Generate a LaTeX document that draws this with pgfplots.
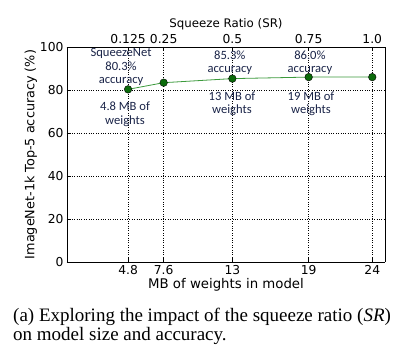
\documentclass[border=0pt]{standalone}
\usepackage{pgfplots}
\pgfplotsset{compat=1.18}
\usepackage{fontspec}
\setmainfont{DejaVu Sans}
\newfontfamily\annfont{Carlito}
\newfontfamily\capfont{Liberation Serif}
\definecolor{anncol}{HTML}{1A2448}
\definecolor{linegreen}{HTML}{3C9A3C}
\definecolor{markgreen}{HTML}{0A6A0A}
\begin{document}
\begin{tikzpicture}[x=1pt,y=1pt]
\useasboundingbox (-67,-91) rectangle (340,262);
\pgfplotsset{every axis/.append style={
  scale only axis, width=318pt, height=215pt,
  xmin=0, xmax=25, ymin=0, ymax=100,
  tick label style={font=\fontsize{12.3}{14}\selectfont},
  /pgf/number format/assume math mode=true,
  tick align=inside, tick style={black, thin},
}}
\begin{axis}[at={(0,0)}, anchor=south west,
  xtick={4.8,7.6,13,19,24},
  xticklabels={4.8,7.6,13,19,24},
  ytick={0,20,40,60,80,100},
  grid=major, grid style={black, dotted, thin},
  axis x line*=bottom, axis y line*=left,
  xlabel={MB of weights in model},
  ylabel={ImageNet-1k Top-5 accuracy (\%)},
  xlabel style={yshift=3pt, font=\fontsize{13.3}{15}\selectfont},
  ylabel style={yshift=-4pt, font=\fontsize{12.8}{15}\selectfont},
  axis line style={thick},
  clip=false,
]
\addplot[linegreen, thick, mark=*, mark size=3.8pt,
  mark options={fill=markgreen, draw=black, thin}]
  coordinates {(4.8,80.3) (7.6,83.4) (13,85.3) (19,86.0) (24,86.0)};
\node[anncol, font=\annfont\fontsize{12.6}{13.5}\selectfont, align=center] at (axis cs:4.25,90.7) {SqueezeNet\\80.3\%\\accuracy};
\node[anncol, font=\annfont\fontsize{12.6}{13.5}\selectfont, align=center] at (axis cs:4.56,68.8) {4.8 MB of\\weights};
\node[anncol, font=\annfont\fontsize{12.6}{13.5}\selectfont, align=center] at (axis cs:12.8,92.6) {85.3\%\\accuracy};
\node[anncol, font=\annfont\fontsize{12.6}{13.5}\selectfont, align=center] at (axis cs:12.97,73.7) {13 MB of\\weights};
\node[anncol, font=\annfont\fontsize{12.6}{13.5}\selectfont, align=center] at (axis cs:19.1,92.6) {86.0\%\\accuracy};
\node[anncol, font=\annfont\fontsize{12.6}{13.5}\selectfont, align=center] at (axis cs:19.18,73.7) {19 MB of\\weights};
\end{axis}
\begin{axis}[at={(0,0)}, anchor=south west,
  axis x line*=top, axis y line*=right,
  xtick={4.8,7.6,13,19,24},
  xticklabels={0.125,0.25,0.5,0.75,1.0},
  ytick=\empty,
  xlabel={Squeeze Ratio (SR)},
  xlabel style={yshift=-3pt, font=\fontsize{11.8}{14}\selectfont},
  axis line style={thick},
]
\end{axis}
\node[anchor=base west, font=\capfont\fontsize{19}{19}\selectfont, inner sep=0pt, text depth=0pt] at (-54,-60) {(a) Exploring the impact of the squeeze ratio (\textit{SR})};
\node[anchor=base west, font=\capfont\fontsize{19}{19}\selectfont, inner sep=0pt, text height=9pt] at (-54,-79) {on model size and accuracy.};
\end{tikzpicture}
\end{document}
